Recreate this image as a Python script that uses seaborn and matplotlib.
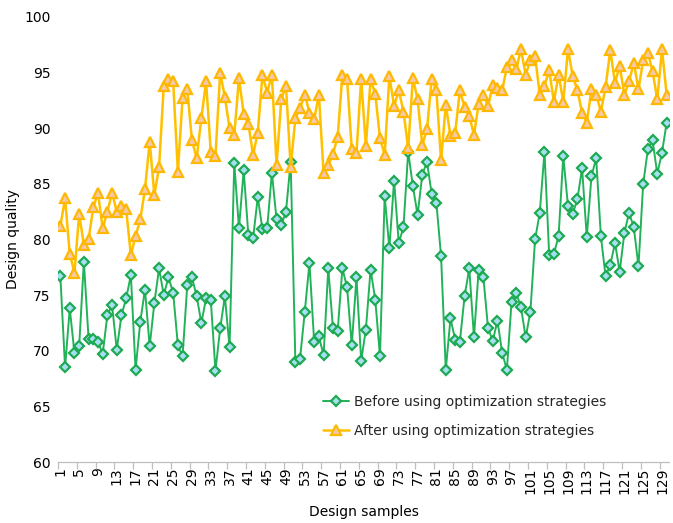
import matplotlib
matplotlib.use("Agg")
import matplotlib.pyplot as plt
import pandas as pd
import seaborn as sns
from matplotlib.ticker import FixedLocator

# Design sample index (1..130)
samples = list(range(1, 131))

# Design quality before applying the optimization strategies
before = [
    76.7, 68.5, 73.8, 69.8, 70.4, 78.0, 71.1, 71.1, 70.8, 69.7,
    73.2, 74.1, 70.1, 73.2, 74.7, 76.8, 68.3, 72.6, 75.5, 70.4,
    74.3, 77.4, 75.0, 76.6, 75.2, 70.5, 69.5, 75.9, 76.6, 74.9,
    72.5, 74.7, 74.6, 68.2, 72.0, 74.9, 70.3, 86.9, 81.0, 86.2,
    80.4, 80.1, 83.8, 80.9, 81.0, 86.0, 81.8, 81.3, 82.5, 87.0,
    69.0, 69.3, 73.5, 77.9, 70.8, 71.3, 69.6, 77.4, 72.0, 71.8,
    77.4, 75.7, 70.5, 76.6, 69.1, 71.9, 77.3, 74.6, 69.5, 83.9,
    79.2, 85.3, 79.7, 81.1, 87.9, 84.8, 82.2, 85.8, 87.0, 84.1,
    83.3, 78.5, 68.3, 72.9, 71.0, 70.8, 74.9, 77.4, 71.2, 77.3,
    76.6, 72.0, 70.9, 72.7, 69.8, 68.3, 74.4, 75.2, 73.9, 71.2,
    73.5, 80.0, 82.4, 87.9, 78.6, 78.7, 80.3, 87.5, 83.0, 82.3,
    83.6, 86.4, 80.2, 85.7, 87.3, 80.3, 76.7, 77.7, 79.7, 77.1,
    80.6, 82.4, 81.1, 77.6, 85.0, 88.1, 88.9, 85.9, 87.8, 90.5,
]

# Design quality after applying the optimization strategies
after = [
    81.2, 83.7, 78.7, 77.0, 82.3, 79.5, 80.0, 82.9, 84.2, 81.0,
    82.5, 84.2, 82.5, 83.0, 82.7, 78.6, 80.3, 81.8, 84.5, 88.8,
    84.0, 86.5, 93.8, 94.4, 94.2, 86.1, 92.7, 93.5, 88.9, 87.3,
    90.9, 94.2, 87.9, 87.5, 95.0, 92.8, 90.0, 89.4, 94.5, 91.3,
    90.4, 87.6, 89.6, 94.8, 93.2, 94.8, 86.7, 92.6, 93.8, 86.5,
    90.9, 91.8, 93.0, 91.4, 90.8, 93.0, 86.0, 86.7, 87.7, 89.2,
    94.8, 94.4, 88.1, 87.8, 94.4, 88.4, 94.4, 93.1, 89.1, 87.6,
    94.7, 92.0, 93.4, 91.5, 88.2, 94.5, 92.6, 88.5, 89.9, 94.4,
    93.4, 87.1, 92.1, 89.3, 89.6, 93.4, 91.9, 91.1, 89.4, 92.2,
    93.0, 92.0, 93.9, 93.6, 93.4, 95.5, 96.1, 95.3, 97.1, 94.8,
    96.1, 96.5, 93.0, 93.8, 95.2, 92.4, 94.8, 92.4, 97.1, 94.7,
    93.4, 91.4, 90.5, 93.5, 93.0, 91.5, 93.7, 97.0, 94.1, 95.6,
    93.0, 94.2, 95.9, 93.5, 96.1, 96.8, 95.1, 92.6, 97.1, 93.0,
]

label_before = "Before using optimization strategies"
label_after = "After using optimization strategies"
tick_positions = list(range(1, 130, 4))
tick_labels = [str(t) for t in tick_positions]

df = pd.DataFrame({"sample": samples, "before": before, "after": after})

sns.set_theme(style="white")
plt.rcParams["font.family"] = ["DejaVu Sans"]

fig = plt.figure(figsize=(6.73, 5.23), dpi=100)
ax = fig.add_axes([0.0862, 0.1166, 0.9079, 0.851])

sns.lineplot(data=df, x="sample", y="before", ax=ax,
             color="#22B25A", linewidth=1.4,
             marker="D", markersize=5.0, markerfacecolor="#A6DFF4",
             markeredgecolor="#1EAA52", markeredgewidth=1.6,
             label=label_before)
sns.lineplot(data=df, x="sample", y="after", ax=ax,
             color="#FFC000", linewidth=1.8,
             marker="^", markersize=7.5, markerfacecolor="#F7C8AA",
             markeredgecolor="#FFB800", markeredgewidth=1.6,
             label=label_after)

ax.set_xlim(0.5, 130.5)
ax.set_ylim(60, 100)
ax.set_yticks(range(60, 101, 5))
ax.set_xticks(tick_positions)
ax.set_xticklabels(tick_labels, rotation=90)
ax.xaxis.set_minor_locator(FixedLocator([0.5 + 4 * k for k in range(33)]))

for side in ("left", "top", "right"):
    ax.spines[side].set_visible(False)
ax.spines["bottom"].set_color("#BFBFBF")
ax.spines["bottom"].set_linewidth(0.9)

ax.tick_params(axis="x", which="major", length=0, pad=4, labelsize=10,
               labelcolor="#000000")
ax.tick_params(axis="x", which="minor", bottom=True, length=5, width=0.9,
               color="#BFBFBF", direction="out")
ax.tick_params(axis="y", length=0, pad=5.5, labelsize=10, labelcolor="#000000")

ax.set_xlabel("Design samples", fontsize=10, color="#000000", labelpad=8)
ax.set_ylabel("Design quality", fontsize=10, color="#000000", labelpad=3)

ax.legend(loc="center", bbox_to_anchor=(0.690, 0.204),
          bbox_transform=fig.transFigure, frameon=False, fontsize=10,
          handlelength=1.9, handletextpad=0.35, labelspacing=1.1)

fig.savefig("out.png", dpi=100)
